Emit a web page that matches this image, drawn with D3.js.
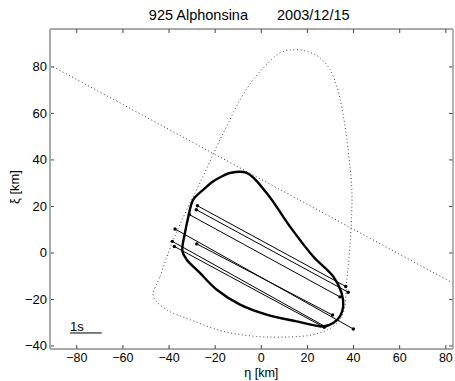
<!DOCTYPE html>
<html>
<head>
<meta charset="utf-8">
<script src="https://cdn.jsdelivr.net/npm/d3@7"></script>
<style>
  body { margin: 0; background: #fff; }
  text { font-family: "Liberation Sans", Arial, sans-serif; fill: #000; }
</style>
</head>
<body>
<div id="chart"></div>
<script>
// Title pieces
const titleName = "925 Alphonsina";
const titleDate = "2003/12/15";

// Tick values
const xTicks = [-80, -60, -40, -20, 0, 20, 40, 60, 80];
const yTicks = [-40, -20, 0, 20, 40, 60, 80];

// Dotted straight line (eta, xi)
const trackLine = [[-91.6, 80.8], [83.1, -13.0]];

// Dotted outer envelope (eta, xi)
const envelope = [
  [-46.8, -18.7], [-43.9, -10.1], [-38.1, 5.7], [-32.3, 18.6], [-26.6, 30.1],
  [-19.3, 45.8], [-15.0, 54.5], [-9.2, 65.9], [-3.5, 74.5], [2.3, 81.0],
  [8.1, 86.0], [13.9, 87.4], [19.7, 86.7], [25.4, 83.9], [29.8, 78.8],
  [32.7, 71.7], [34.8, 63.1], [36.7, 51.6], [38.1, 40.1], [39.2, 28.6],
  [39.2, 17.2], [38.4, 2.8], [37.1, -11.5], [35.5, -25.8], [31.2, -31.6],
  [22.5, -35.1], [12.4, -36.1], [-2.0, -35.9], [-16.5, -33.7], [-30.9, -28.7],
  [-41.0, -24.4]
];

// Fitted profile (eta, xi)
const profile = [
  [-13.6, 34.4], [-6.3, 34.4], [2.3, 25.8], [12.4, 11.4], [22.5, -1.5],
  [31.2, -10.1], [34.8, -17.2], [35.5, -23.0], [34.1, -27.3], [31.2, -30.1],
  [26.9, -31.6], [15.3, -29.4], [2.3, -26.5], [-9.2, -22.2], [-19.3, -15.8],
  [-26.6, -8.6], [-32.3, -2.9], [-34.2, 0.7], [-33.1, 8.6], [-31.6, 15.7],
  [-29.5, 22.9], [-25.1, 27.2], [-20.8, 30.8], [-16.5, 33.2]
];

// Observed chords: start (eta, xi) and end (eta, xi)
const chordStart = [
  [-27.7, 20.3], [-28.2, 18.6], [-31.2, 16.5], [-37.4, 10.3],
  [-28.0, 3.9], [-38.6, 5.0], [-37.7, 2.8]
];
const chordEnd = [
  [36.6, -14.4], [37.7, -16.9], [34.1, -18.9], [39.9, -32.7],
  [30.9, -26.7], [27.6, -31.6], [27.3, -32.0]
];

// 1 s scale bar
const scaleBar = [[-82.9, -34.4], [-69.2, -34.4]];
const scaleLabel = "1s";

const W = 455, H = 381;
const margin = { left: 50, top: 29, right: 2, bottom: 32 };
const plotW = W - margin.left - margin.right;
const plotH = H - margin.top - margin.bottom;

const svg = d3.select("#chart").append("svg")
  .attr("width", W)
  .attr("height", H);

const x = d3.scaleLinear().domain([-91.6, 83.1]).range([0, plotW]);
const y = d3.scaleLinear().domain([-41.3, 96.3]).range([plotH, 0]);

const g = svg.append("g")
  .attr("transform", `translate(${margin.left},${margin.top})`);

g.append("clipPath").attr("id", "clip")
  .append("rect").attr("width", plotW).attr("height", plotH);

const plot = g.append("g").attr("clip-path", "url(#clip)");

const line = d3.line().x(d => x(d[0])).y(d => y(d[1]));
const closedCurve = d3.line().x(d => x(d[0])).y(d => y(d[1])).curve(d3.curveCatmullRomClosed);

// Dotted straight line
plot.append("path")
  .attr("d", line(trackLine))
  .attr("fill", "none")
  .attr("stroke", "#333")
  .attr("stroke-width", 1)
  .attr("stroke-dasharray", "1,2.6");

// Dotted envelope
plot.append("path")
  .attr("d", closedCurve(envelope))
  .attr("fill", "none")
  .attr("stroke", "#444")
  .attr("stroke-width", 1)
  .attr("stroke-dasharray", "1,2.6");

// Chords
const chords = chordStart.map((s, i) => [s, chordEnd[i]]);
plot.selectAll(".chord")
  .data(chords)
  .enter()
  .append("line")
  .attr("class", "chord")
  .attr("x1", d => x(d[0][0]))
  .attr("y1", d => y(d[0][1]))
  .attr("x2", d => x(d[1][0]))
  .attr("y2", d => y(d[1][1]))
  .attr("stroke", "#000")
  .attr("stroke-width", 1);

plot.selectAll(".endpt")
  .data(chordStart.concat(chordEnd))
  .enter()
  .append("circle")
  .attr("class", "endpt")
  .attr("cx", d => x(d[0]))
  .attr("cy", d => y(d[1]))
  .attr("r", 1.7)
  .attr("fill", "#000");

// Profile outline
plot.append("path")
  .attr("d", closedCurve(profile))
  .attr("fill", "none")
  .attr("stroke", "#000")
  .attr("stroke-width", 2.4);

// Scale bar
plot.append("line")
  .attr("x1", x(scaleBar[0][0]))
  .attr("y1", y(scaleBar[0][1]))
  .attr("x2", x(scaleBar[1][0]))
  .attr("y2", y(scaleBar[1][1]))
  .attr("stroke", "#000")
  .attr("stroke-width", 1);

plot.append("text")
  .attr("x", x(scaleBar[0][0]))
  .attr("y", y(scaleBar[0][1]) - 2)
  .style("font-size", "13px")
  .text(scaleLabel);

// Ticks (inside, on all four sides)
const tickLen = 4;
const fmt = d => d < 0 ? "\u2212" + Math.abs(d) : String(d);

xTicks.forEach(t => {
  g.append("line")
    .attr("x1", x(t)).attr("x2", x(t))
    .attr("y1", plotH).attr("y2", plotH - tickLen)
    .attr("stroke", "#444");
  g.append("line")
    .attr("x1", x(t)).attr("x2", x(t))
    .attr("y1", 0).attr("y2", tickLen)
    .attr("stroke", "#444");
  g.append("text")
    .attr("x", x(t))
    .attr("y", plotH + 13)
    .attr("text-anchor", "middle")
    .style("font-size", "12.5px")
    .text(fmt(t));
});

yTicks.forEach(t => {
  g.append("line")
    .attr("x1", 0).attr("x2", tickLen)
    .attr("y1", y(t)).attr("y2", y(t))
    .attr("stroke", "#444");
  g.append("line")
    .attr("x1", plotW).attr("x2", plotW - tickLen)
    .attr("y1", y(t)).attr("y2", y(t))
    .attr("stroke", "#444");
  g.append("text")
    .attr("x", -3)
    .attr("y", y(t) + 4.5)
    .attr("text-anchor", "end")
    .style("font-size", "13px")
    .text(fmt(t));
});

// Axes box
g.append("line").attr("x1", 0).attr("x2", plotW).attr("y1", 0).attr("y2", 0)
  .attr("stroke", "#555").attr("stroke-width", 1);
g.append("line").attr("x1", 0).attr("x2", plotW).attr("y1", plotH).attr("y2", plotH)
  .attr("stroke", "#555").attr("stroke-width", 1);
g.append("line").attr("x1", 0).attr("x2", 0).attr("y1", 0).attr("y2", plotH)
  .attr("stroke", "#aaa").attr("stroke-width", 2);
g.append("line").attr("x1", plotW).attr("x2", plotW).attr("y1", 0).attr("y2", plotH)
  .attr("stroke", "#999").attr("stroke-width", 1.5);

// Axis labels
svg.append("text")
  .attr("x", margin.left + x(0))
  .attr("y", H - 4)
  .attr("text-anchor", "middle")
  .style("font-size", "12.5px")
  .text("\u03b7 [km]");

svg.append("text")
  .attr("transform", `translate(19,${margin.top + plotH / 2 - 2}) rotate(-90)`)
  .attr("text-anchor", "middle")
  .style("font-size", "13px")
  .text("\u03be [km]");

// Title
svg.append("text")
  .attr("x", 248)
  .attr("y", 20)
  .attr("text-anchor", "end")
  .style("font-size", "14.5px")
  .text(titleName);

svg.append("text")
  .attr("x", 277)
  .attr("y", 20)
  .attr("text-anchor", "start")
  .style("font-size", "14.5px")
  .text(titleDate);
</script>
</body>
</html>
